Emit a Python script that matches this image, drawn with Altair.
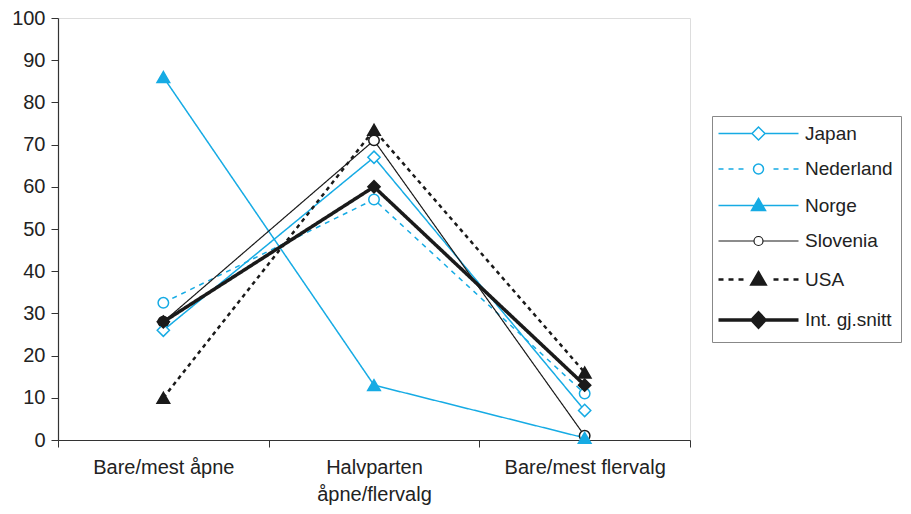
import altair as alt
import pandas as pd

# ---- data ----
categories = ["Bare/mest åpne", "Halvparten åpne/flervalg", "Bare/mest flervalg"]
series = ["Japan", "Nederland", "Norge", "Slovenia", "USA", "Int. gj.snitt"]
line_style = ["heltrukket", "stiplet", "heltrukket", "heltrukket", "prikket", "heltrukket"]
japan = [26, 67, 7]
nederland = [32.5, 57, 11]
norge = [86, 13, 0.5]
slovenia = [28, 71, 1]
usa = [10, 73.5, 16]
int_avg = [28, 60, 13]

values = {
    "Japan": japan,
    "Nederland": nederland,
    "Norge": norge,
    "Slovenia": slovenia,
    "USA": usa,
    "Int. gj.snitt": int_avg,
}

rows = []
for s, st in zip(series, line_style):
    for i, (c, v) in enumerate(zip(categories, values[s])):
        rows.append({"kategori": c, "serie": s, "verdi": v, "rekkefolge": i, "strek": st})
df = pd.DataFrame(rows)

# ---- styles ----
CYAN = "#16ABE4"
BLACK = "#1A1A1A"
stroke_colors = [CYAN, CYAN, CYAN, BLACK, BLACK, BLACK]
fill_colors = ["white", "white", CYAN, "white", BLACK, BLACK]
line_widths = [1.5, 1.5, 1.5, 1.2, 2.5, 3.5]
dash_domain = ["heltrukket", "stiplet", "prikket"]
dash_range = [[1, 0], [5, 5], [4, 4]]

# legend symbols: custom paths (line + marker), in pixels (symbol size 4 -> scale 1)
DL = "M-40,0H-35M-30,0H-25M-20,0H-15M15,0H20M25,0H30M35,0H40"
legend_paths = [
    "M-40,0H-6.5M6.5,0H40M-6.5,0L0,-6.5L6.5,0L0,6.5Z",
    DL + "M-5,0A5,5 0 1,1 5,0A5,5 0 1,1 -5,0Z",
    "M-40,0H40M0,-7L7,5L-7,5Z",
    "M-40,0H-4.5M4.5,0H40M-4.5,0A4.5,4.5 0 1,1 4.5,0A4.5,4.5 0 1,1 -4.5,0Z",
    DL + "M0,-7L7,5L-7,5Z",
    "M-40,0H40M-6.5,0L0,-7L6.5,0L0,7Z",
]

FONT = "Liberation Sans"

x_enc = alt.X(
    "kategori:N",
    scale=alt.Scale(type="band", domain=categories, paddingInner=0, paddingOuter=0),
    axis=alt.Axis(
        title=None,
        labelAngle=0,
        tickBand="extent",
        tickSize=7,
        labelPadding=10,
        labelFontSize=20,
        labelFont=FONT,
        labelColor="#222",
        labelLineHeight=27,
        labelExpr="datum.label == 'Halvparten åpne/flervalg' ? ['Halvparten', 'åpne/flervalg'] : datum.label",
        domainColor="#333",
        tickColor="#333",
        domainWidth=1.2,
    ),
)
y_enc = alt.Y(
    "verdi:Q",
    scale=alt.Scale(domain=[0, 100], nice=False),
    axis=alt.Axis(
        title=None,
        values=list(range(0, 101, 10)),
        tickSize=7,
        labelPadding=6,
        labelFontSize=20,
        labelFont=FONT,
        labelColor="#222",
        grid=False,
        domainColor="#333",
        tickColor="#333",
        domainWidth=1.2,
    ),
)

stroke_scale = alt.Scale(domain=series, range=stroke_colors)
fill_scale = alt.Scale(domain=series, range=fill_colors)
width_scale = alt.Scale(type="ordinal", domain=series, range=line_widths)

base = alt.Chart(df).encode(x=x_enc, y=y_enc)

lines = base.mark_line().encode(
    stroke=alt.Stroke("serie:N", scale=stroke_scale),
    strokeDash=alt.StrokeDash("strek:N", scale=alt.Scale(domain=dash_domain, range=dash_range), legend=None),
    strokeWidth=alt.StrokeWidth("serie:N", scale=width_scale),
    order=alt.Order("rekkefolge:Q"),
)


def marker_layer(names, shape, size):
    return (
        base.transform_filter(alt.FieldOneOfPredicate(field="serie", oneOf=names))
        .mark_point(shape=shape, size=size, opacity=1, strokeWidth=1.5)
        .encode(
            stroke=alt.Stroke("serie:N", scale=stroke_scale),
            fill=alt.Fill("serie:N", scale=fill_scale),
        )
    )


diamonds = marker_layer(["Japan", "Int. gj.snitt"], "diamond", 150)
circles = marker_layer(["Nederland", "Slovenia"], "circle", 110)
triangles = marker_layer(["Norge", "USA"], "triangle-up", 160)

leg = alt.Legend(
    title=None,
    orient="none",
    legendX=654,
    legendY=98,
    padding=8,
    strokeColor="#888",
    fillColor="white",
    labelFont=FONT,
    labelFontSize=19,
    labelColor="#222",
    labelOffset=37,
    symbolOffset=29,
    symbolSize=4,
    symbolFillColor="white",
    symbolStrokeColor=BLACK,
    rowPadding=15.5,
)

legend_layer = (
    alt.Chart(df)
    .transform_filter("false")
    .mark_point(filled=True, opacity=1, size=4)
    .encode(
        x=x_enc,
        y=y_enc,
        shape=alt.Shape("serie:N", scale=alt.Scale(domain=series, range=legend_paths), legend=leg),
        stroke=alt.Stroke("serie:N", scale=stroke_scale, legend=leg),
        fill=alt.Fill("serie:N", scale=fill_scale, legend=leg),
        strokeWidth=alt.StrokeWidth("serie:N", scale=width_scale, legend=leg),
    )
)

chart = (
    alt.layer(legend_layer, lines, circles, triangles, diamonds)
    .properties(
        width=632,
        height=422,
        padding={"left": 50, "top": 10, "right": 213, "bottom": 66},
        autosize=alt.AutoSizeParams(type="none"),
    )
    .configure_view(stroke="#999", strokeWidth=1.5)
    .configure(background="white")
)

chart.save("out.html", embed_options={"renderer": "svg", "actions": False})
